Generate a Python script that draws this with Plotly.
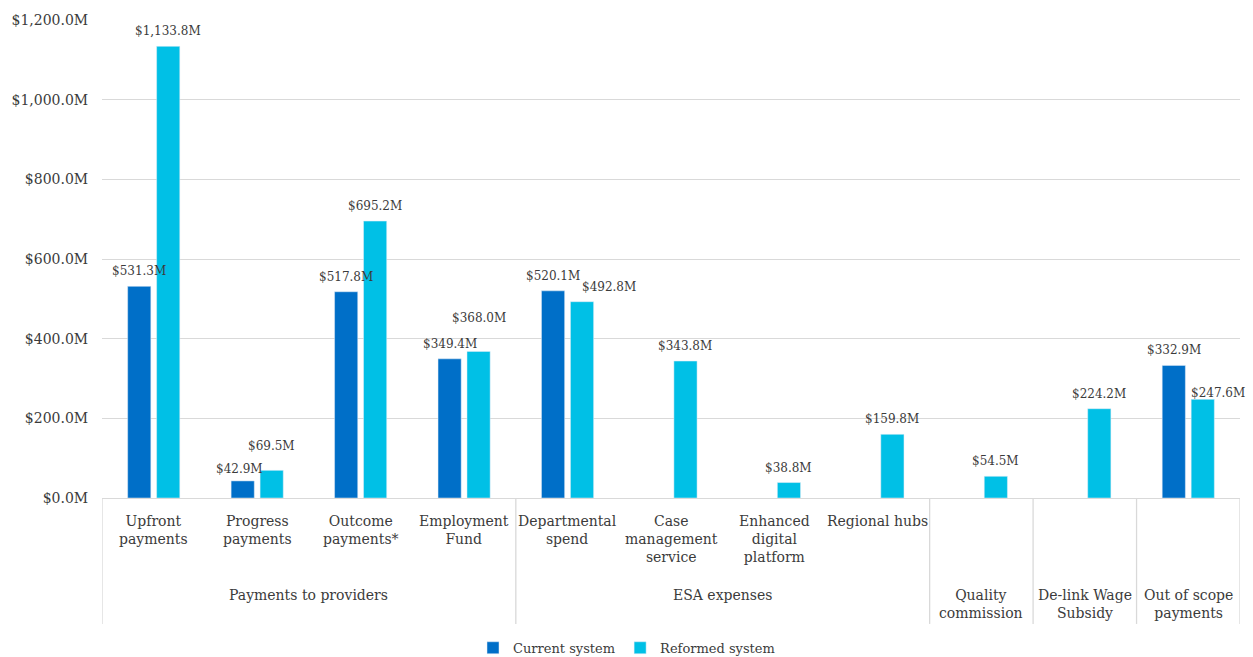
import plotly.graph_objects as go

# ---- data ----
categories = ["Upfront<br>payments", "Progress<br>payments", "Outcome<br>payments*", "Employment<br>Fund",
              "Departmental<br>spend", "Case<br>management<br>service", "Enhanced<br>digital<br>platform",
              "Regional hubs", "Quality<br>commission", "De-link Wage<br>Subsidy", "Out of scope<br>payments"]
parents = ["Payments to providers"] * 4 + ["ESA expenses"] * 4 + ["", "", ""]
current_system = [531.3, 42.9, 517.8, 349.4, 520.1, None, None, None, None, None, 332.9]
reformed_system = [1133.8, 69.5, 695.2, 368.0, 492.8, 343.8, 38.8, 159.8, 54.5, 224.2, 247.6]
y_ticks = [0, 200, 400, 600, 800, 1000, 1200]

# ---- styling ----
FONT = "DejaVu Serif"
TXT = "#3b3b3b"
GRID = "#d9d9d9"
BARGAP = 0.44
# label nudges (pixels: dx, extra dy) keyed by (series, category index), mimicking Excel's placement
NUDGE = {("cur", 1): (-3, -3), ("ref", 1): (0, 9), ("ref", 3): (0, 18),
         ("ref", 4): (27, 0), ("ref", 10): (15, -9)}

x_idx = list(range(len(categories)))

def money(v):
    return "${:,.1f}M".format(v)

fig = go.Figure()
fig.add_trace(go.Bar(name="Current system", x=x_idx, y=current_system,
                     marker_color="#006FC8"))
fig.add_trace(go.Bar(name="Reformed system", x=x_idx, y=reformed_system,
                     marker_color="#00C0E6"))

annotations = []
slot = (1 - BARGAP) / 2
for key, vals, off in (("cur", current_system, -slot / 2), ("ref", reformed_system, slot / 2)):
    for i, v in enumerate(vals):
        if v is None:
            continue
        dx, dy = NUDGE.get((key, i), (0, 0))
        annotations.append(dict(x=i + off, y=v, xref="x", yref="y", text=money(v), showarrow=False,
                                xanchor="center", yanchor="middle", xshift=dx, yshift=15 + dy,
                                font=dict(family=FONT, size=12, color=TXT)))

# category labels
for i, (c, p) in enumerate(zip(categories, parents)):
    shift = -13 if p else -87
    annotations.append(dict(x=i, y=0, xref="x", yref="paper", text=c, showarrow=False,
                            yanchor="top", yshift=shift, align="center",
                            font=dict(family=FONT, size=14, color=TXT)))
# group labels
seen = []
for p in parents:
    if p and p not in seen:
        seen.append(p)
for g in seen:
    idx = [i for i, p in enumerate(parents) if p == g]
    annotations.append(dict(x=sum(idx) / len(idx), y=0, xref="x", yref="paper", text=g,
                            showarrow=False, yanchor="top", yshift=-87,
                            font=dict(family=FONT, size=14, color=TXT)))

# dividers
bounds = [-0.5]
for i in range(len(parents)):
    last = (i == len(parents) - 1)
    if last or not parents[i] or parents[i] != parents[i + 1]:
        bounds.append(i + 0.5)
shapes = []
div_bottom = -(625 - 498) / 482
for b in bounds:
    shapes.append(dict(type="line", xref="x", yref="paper", x0=b, x1=b, y0=0, y1=div_bottom,
                       line=dict(color=GRID, width=1.3)))

fig.update_layout(
    width=1253, height=657,
    margin=dict(l=100, r=13, t=16, b=159),
    paper_bgcolor="white", plot_bgcolor="white",
    barmode="group", bargap=BARGAP, bargroupgap=0.2,
    font=dict(family=FONT, size=14, color=TXT),
    xaxis=dict(type="linear", range=[-0.5, len(categories) - 0.5], showticklabels=False,
               showgrid=False, zeroline=False, showline=True, linecolor=GRID, linewidth=1.3,
               ticks=""),
    yaxis=dict(range=[0, 1200], tickvals=y_ticks, ticktext=[money(t) for t in y_ticks],
               showgrid=True, gridcolor=GRID, gridwidth=1.3, zeroline=False,
               ticks="outside", ticklen=10, tickcolor="rgba(0,0,0,0)",
               tickfont=dict(family=FONT, size=14, color=TXT)),
    legend=dict(orientation="h", xref="container", yref="container", x=0.5, xanchor="center",
                y=0.014, yanchor="middle", font=dict(family=FONT, size=13, color=TXT),
                itemwidth=30, traceorder="normal"),
    annotations=annotations, shapes=shapes,
)

fig.write_html("out.html")
